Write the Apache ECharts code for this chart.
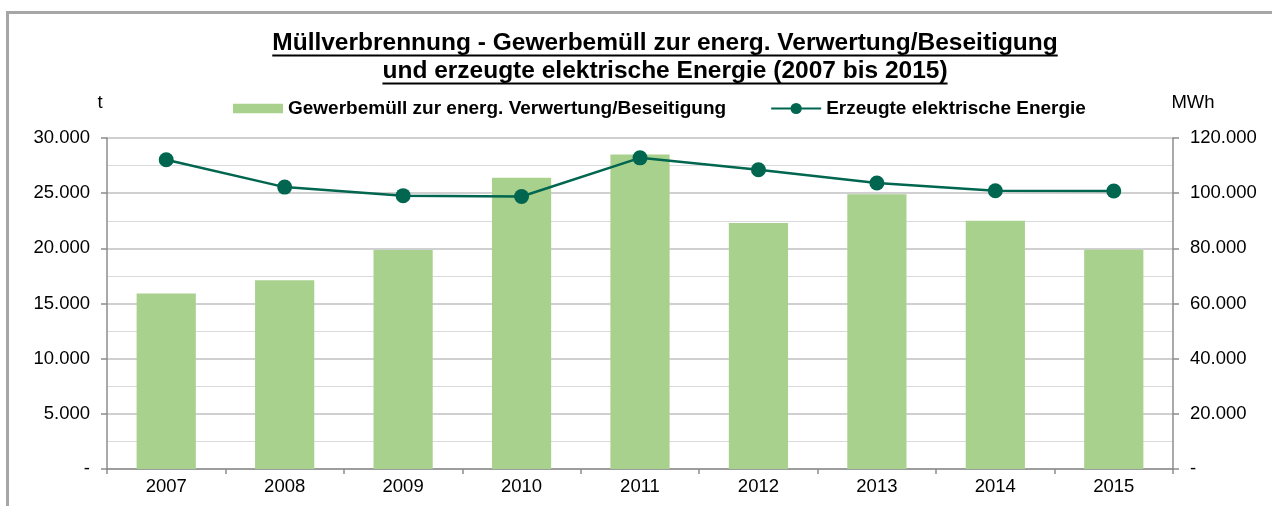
<!DOCTYPE html>
<html>
<head>
<meta charset="utf-8">
<script src="https://cdn.jsdelivr.net/npm/echarts@6/dist/echarts.min.js"></script>
<style>
html,body{margin:0;padding:0;background:#fff;}
#c{width:1272px;height:506px;}
</style>
</head>
<body>
<div id="c"></div>
<script>
const categories = ['2007','2008','2009','2010','2011','2012','2013','2014','2015'];
const waste = [15900, 17100, 19850, 26400, 28500, 22300, 24900, 22500, 19870];
const energy = [112100, 102200, 99100, 98800, 112800, 108500, 103700, 100900, 100800];
const wasteName = 'Gewerbemüll zur energ. Verwertung/Beseitigung';
const energyName = 'Erzeugte elektrische Energie';
const titleLines = ['Müllverbrennung - Gewerbemüll zur energ. Verwertung/Beseitigung', 'und erzeugte elektrische Energie (2007 bis 2015)'];
const leftUnit = 't';
const rightUnit = 'MWh';

const FONT = "'Liberation Sans', Arial, sans-serif";
const fmt = v => v === 0 ? '-' : String(v).replace(/\B(?=(\d{3})+(?!\d))/g, '.');

const TFONT = "bold 24.5px 'Liberation Sans'";
const mc = document.createElement('canvas').getContext('2d');
mc.font = TFONT;
const tw = titleLines.map(t => mc.measureText(t).width);
const tcx = 665;

const chart = echarts.init(document.getElementById('c'));
chart.setOption({
  animation: false,
  backgroundColor: '#fff',
  textStyle: { fontFamily: FONT },
  grid: { left: 107, right: 99, top: 138, bottom: 37, containLabel: false },
  legend: {
    left: 228, top: 94,
    itemWidth: 50, itemHeight: 14, itemGap: 44,
    textStyle: { fontSize: 19, fontWeight: 'bold', color: '#000', fontFamily: FONT },
    data: [
      { name: wasteName, icon: 'path://M0,0H52V10H0Z', symbolKeepAspect: true },
      { name: energyName }
    ]
  },
  graphic: [
    { type: 'rect', silent: true, shape: { x: 7.5, y: 12.5, width: 1400, height: 700 }, style: { fill: 'none', stroke: '#a6a6a6', lineWidth: 3 } },
    { type: 'text', x: tcx, y: 43, style: { text: titleLines[0], font: TFONT, fill: '#000', textAlign: 'center', textVerticalAlign: 'middle' } },
    { type: 'text', x: tcx, y: 71, style: { text: titleLines[1], font: TFONT, fill: '#000', textAlign: 'center', textVerticalAlign: 'middle' } },
    { type: 'rect', shape: { x: tcx - tw[0] / 2, y: 54.5, width: tw[0], height: 2 }, style: { fill: '#000' } },
    { type: 'rect', shape: { x: tcx - tw[1] / 2, y: 82.5, width: tw[1], height: 2 }, style: { fill: '#000' } },
    { type: 'text', x: 100, y: 103, style: { text: leftUnit, font: "18.5px 'Liberation Sans'", fill: '#000', textAlign: 'center', textVerticalAlign: 'middle' } },
    { type: 'text', x: 1193, y: 103, style: { text: rightUnit, font: "18.5px 'Liberation Sans'", fill: '#000', textAlign: 'center', textVerticalAlign: 'middle' } }
  ],
  xAxis: {
    type: 'category',
    data: categories,
    boundaryGap: true,
    axisLine: { lineStyle: { color: '#8c8c8c', width: 1.5 } },
    axisTick: { show: true, length: 5, alignWithLabel: false, interval: 0, lineStyle: { color: '#8c8c8c', width: 1.5 } },
    axisLabel: { margin: 8, fontSize: 18.5, color: '#000', fontFamily: FONT }
  },
  yAxis: [
    {
      type: 'value', min: 0, max: 30000, interval: 5000, position: 'left',
      axisLine: { show: true, lineStyle: { color: '#8c8c8c', width: 1.5 } },
      axisTick: { show: true, length: 6, lineStyle: { color: '#8c8c8c', width: 1.5 } },
      axisLabel: { margin: 17, fontSize: 18.5, color: '#000', fontFamily: FONT, formatter: fmt },
      splitLine: { show: true, lineStyle: { color: '#d0d0d0', width: 2 } },
      minorTick: { show: false, splitNumber: 2 },
      minorSplitLine: { show: true, lineStyle: { color: '#dadada', width: 1 } }
    },
    {
      type: 'value', min: 0, max: 120000, interval: 20000, position: 'right',
      axisLine: { show: true, lineStyle: { color: '#8c8c8c', width: 1.5 } },
      axisTick: { show: true, length: 6, lineStyle: { color: '#8c8c8c', width: 1.5 } },
      axisLabel: { margin: 17, fontSize: 18.5, color: '#000', fontFamily: FONT, formatter: fmt },
      splitLine: { show: false }
    }
  ],
  series: [
    {
      name: wasteName, type: 'bar', yAxisIndex: 0, data: waste,
      barCategoryGap: '50%',
      itemStyle: { color: '#a9d18e' }
    },
    {
      name: energyName, type: 'line', yAxisIndex: 1, data: energy,
      symbol: 'circle', symbolSize: 15, z: 5,
      lineStyle: { color: '#00664f', width: 2.5 },
      itemStyle: { color: '#00664f' }
    }
  ]
});
</script>
</body>
</html>
